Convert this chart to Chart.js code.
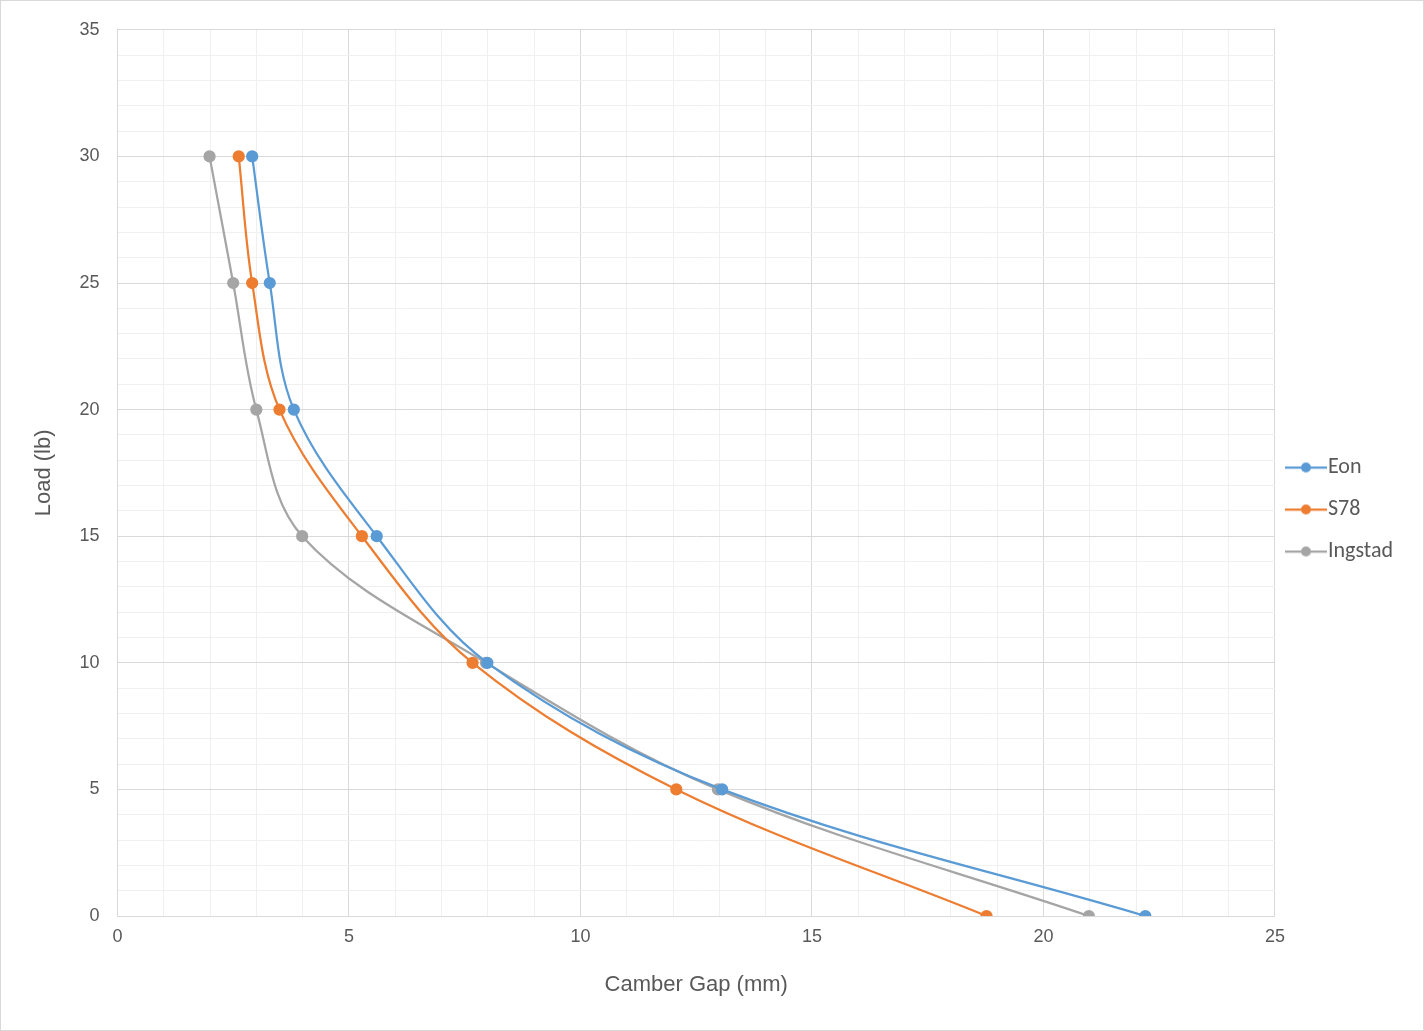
<!DOCTYPE html>
<html><head><meta charset="utf-8">
<script src="https://cdn.jsdelivr.net/npm/chart.js@4/dist/chart.umd.min.js"></script>
<style>html,body{margin:0;background:#fff}#w{position:absolute;left:0;top:0;width:1422px;height:1029px;border:1px solid #d9d9d9}</style>
</head><body><div id="w"><canvas id="c"></canvas></div>
<script>
const loads = [30, 25, 20, 15, 10, 5, 0];
const eonGap = [2.91, 3.29, 3.81, 5.6, 7.99, 13.06, 22.2];
const s78Gap = [2.62, 2.91, 3.5, 5.28, 7.67, 12.07, 18.77];
const ingstadGap = [1.99, 2.5, 3.0, 3.99, 7.96, 12.97, 20.98];
const seriesNames = ['Eon', 'S78', 'Ingstad'];
const colors = ['#5b9bd5', '#ed7d31', '#a5a5a5'];
const gaps = [eonGap, s78Gap, ingstadGap];
function legendIcon(col) {
  const cv = document.createElement('canvas'); cv.width = 42; cv.height = 12;
  const g = cv.getContext('2d');
  g.strokeStyle = col; g.lineWidth = 2.25; g.beginPath(); g.moveTo(0, 6); g.lineTo(42, 6); g.stroke();
  g.fillStyle = col; g.beginPath(); g.arc(21, 6, 5, 0, Math.PI * 2); g.fill();
  return cv;
}
const ds = gaps.map((g, i) => ({
  label: seriesNames[i],
  data: g.map((x, j) => ({x, y: loads[j]})),
  borderColor: colors[i], backgroundColor: colors[i],
  showLine: true, tension: 0.35, borderWidth: 2.25,
  pointRadius: 5, pointHoverRadius: 5
}));
const icons = colors.map(legendIcon);
const grid = c => (c.tick && c.tick.value % 5 === 0) ? '#d9d9d9' : '#f0f0f0';
new Chart(document.getElementById('c'), {
  type: 'scatter',
  data: {datasets: ds},
  options: {
    responsive: true, maintainAspectRatio: false, animation: false,
    layout: {padding: {left: 26, right: 20, top: 16, bottom: 28}},
    plugins: {
      legend: {position: 'right', labels: {usePointStyle: true, padding: 20, color: '#595959', font: {family: 'Calibri, Carlito, "Open Sans", sans-serif', size: 22},
        generateLabels: ch => ch.data.datasets.map((d, i) => ({text: d.label, pointStyle: icons[i], fillStyle: d.backgroundColor, strokeStyle: d.borderColor, lineWidth: 0, datasetIndex: i, fontColor: '#595959'}))}},
      tooltip: {enabled: false}
    },
    scales: {
      x: {min: 0, max: 25, ticks: {stepSize: 1, autoSkip: false, maxRotation: 0, color: '#595959', font: {size: 18}, padding: 10, callback: v => v % 5 === 0 ? v : ''},
          grid: {color: grid, drawTicks: false}, border: {color: '#d9d9d9'},
          title: {display: true, text: 'Camber Gap (mm)', color: '#595959', font: {size: 22}, padding: {top: 14}}},
      y: {min: 0, max: 35, ticks: {stepSize: 1, autoSkip: false, color: '#595959', font: {size: 18}, padding: 18, callback: v => v % 5 === 0 ? v : ''},
          grid: {color: grid, drawTicks: false}, border: {color: '#d9d9d9'},
          title: {display: true, text: 'Load (lb)', color: '#595959', font: {size: 22}}}
    }
  }
});
</script></body></html>
